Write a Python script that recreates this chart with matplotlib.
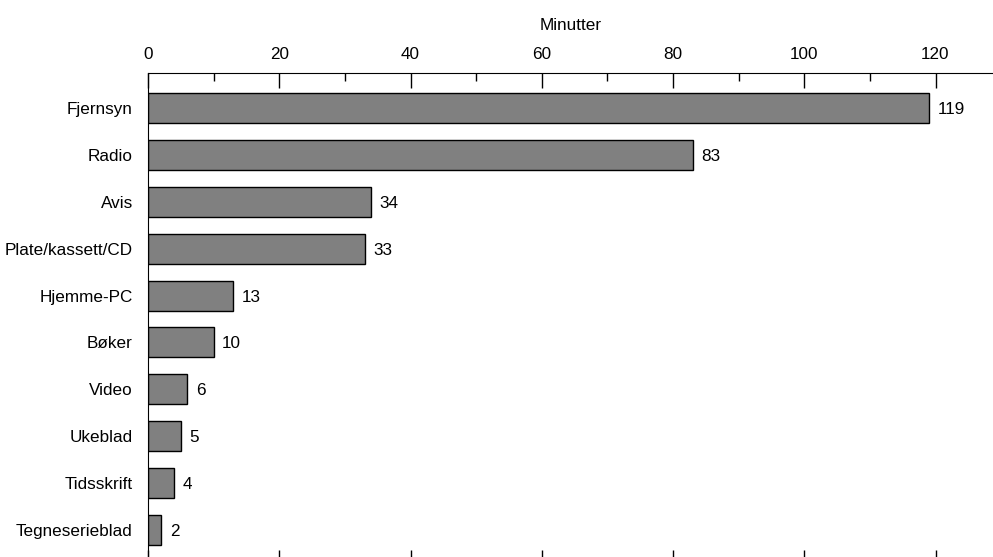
import numpy as np
import matplotlib.pyplot as plt
from matplotlib.ticker import MultipleLocator

categories = ["Fjernsyn", "Radio", "Avis", "Plate/kassett/CD", "Hjemme-PC",
              "Bøker", "Video", "Ukeblad", "Tidsskrift", "Tegneserieblad"]
minutes = [119, 83, 34, 33, 13, 10, 6, 5, 4, 2]

plt.rcParams['font.family'] = ['Liberation Sans', 'DejaVu Sans']
FS = 12.3

W, H = 993, 557
fig = plt.figure(figsize=(W / 100, H / 100), dpi=100)
# axes: left spine at x=148, top spine at y=73, bottom cut off below the image
left, right, top, bottom = 148, 993, 73, 565
ax = fig.add_axes([left / W, 1 - bottom / H, (right - left) / W, (bottom - top) / H])

y = np.arange(len(categories))
ax.barh(y, minutes, height=0.64, color='#808080', edgecolor='black', linewidth=1)
for yi, v in zip(y, minutes):
    ax.text(v + 1.3, yi, str(v), va='center_baseline', ha='left', fontsize=FS)

ax.set_xlim(0, (right - left) / 6.5625)
ax.set_ylim(9.746, -0.746)
ax.set_yticks(y)
ax.set_yticklabels(categories, fontsize=FS)
ax.tick_params(axis='y', length=0, pad=11)

ax.xaxis.set_major_locator(MultipleLocator(20))
ax.xaxis.set_minor_locator(MultipleLocator(10))
ax.tick_params(axis='x', which='both', direction='in', top=True, bottom=True,
               labeltop=True, labelbottom=False, labelsize=FS, pad=8)
ax.tick_params(axis='x', which='major', length=11, width=1)
ax.tick_params(axis='x', which='minor', length=6, width=1)
ax.xaxis.set_label_position('top')
ax.set_xlabel("Minutter", fontsize=FS, labelpad=12)

ax.spines['right'].set_visible(False)
ax.spines['bottom'].set_visible(False)

fig.savefig("out.png", dpi=100)
